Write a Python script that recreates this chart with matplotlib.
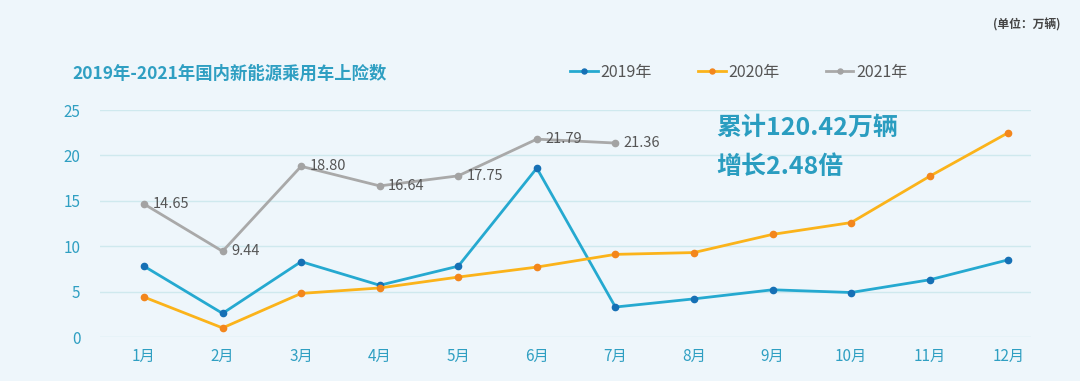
import matplotlib.pyplot as plt
import numpy as np

plt.rcParams['font.family'] = ['Noto Sans CJK SC', 'DejaVu Sans']

months = ["1月", "2月", "3月", "4月", "5月", "6月", "7月", "8月", "9月", "10月", "11月", "12月"]
y2019 = [7.8, 2.6, 8.3, 5.7, 7.8, 18.6, 3.3, 4.2, 5.2, 4.9, 6.3, 8.5]
y2020 = [4.4, 1.0, 4.8, 5.4, 6.6, 7.7, 9.1, 9.3, 11.3, 12.6, 17.7, 22.5]
y2021 = [14.65, 9.44, 18.80, 16.64, 17.75, 21.79, 21.36]

bg = "#eef6fb"
teal = "#2f9fc2"

fig = plt.figure(figsize=(10.8, 3.81), dpi=100, facecolor=bg)
ax = fig.add_axes([100 / 1080, 1 - 337 / 381, 931 / 1080, 227 / 381])
ax.set_facecolor(bg)

x = np.arange(len(months))
ax.plot(x, y2019, color="#25a9d0", lw=2, marker="o", ms=4.5,
        mfc="#1670b5", mec="#1670b5", label="2019年", zorder=3)
ax.plot(x, y2020, color="#fbb31a", lw=2, marker="o", ms=4.5,
        mfc="#f3861c", mec="#f3861c", label="2020年", zorder=3)
x21 = np.arange(len(y2021))
ax.plot(x21, y2021, color="#a9a9a9", lw=2, marker="o", ms=4.5,
        mfc="#a3a3a3", mec="#a3a3a3", label="2021年", zorder=3)

for xi, v in zip(x21, y2021):
    ax.annotate(f"{v:.2f}", (xi, v), xytext=(6, 0), textcoords="offset points",
                va="center", ha="left", fontsize=10.5, color="#555555", zorder=4)

ax.set_xlim(-0.56, 11.29)
ax.set_ylim(0, 25)
ax.set_yticks([0, 5, 10, 15, 20, 25])
ax.set_xticks(x)
ax.set_xticklabels(months)
ax.grid(axis="y", color="#cfe9ee", lw=1)
ax.set_axisbelow(True)
for s in ax.spines.values():
    s.set_visible(False)
ax.tick_params(length=0, colors=teal, labelsize=11)
ax.tick_params(axis="x", pad=8)
ax.tick_params(axis="y", pad=14)

fig.text(72 / 1080, 1 - 74 / 381, "2019年-2021年国内新能源乘用车上险数",
         fontsize=12.5, fontweight="bold", color=teal, va="center")
fig.text(1060 / 1080, 1 - 25 / 381, "(单位：万辆)", fontsize=8.5, fontweight="bold",
         color="#444444", ha="right", va="center")

leg = fig.legend(loc="center left", bbox_to_anchor=(556 / 1080, 1 - 72 / 381), ncol=3,
                 frameon=False, fontsize=11.5, handlelength=1.7, columnspacing=2.9,
                 handletextpad=0.2, markerscale=0.8)
for t in leg.get_texts():
    t.set_color("#555555")

fig.text(716 / 1080, 1 - 128 / 381, "累计120.42万辆", fontsize=18, fontweight="heavy",
         color="#2a9dc0", va="center")
fig.text(716 / 1080, 1 - 167 / 381, "增长2.48倍", fontsize=18, fontweight="heavy",
         color="#2a9dc0", va="center")

fig.savefig("out.png", dpi=100, facecolor=bg)
